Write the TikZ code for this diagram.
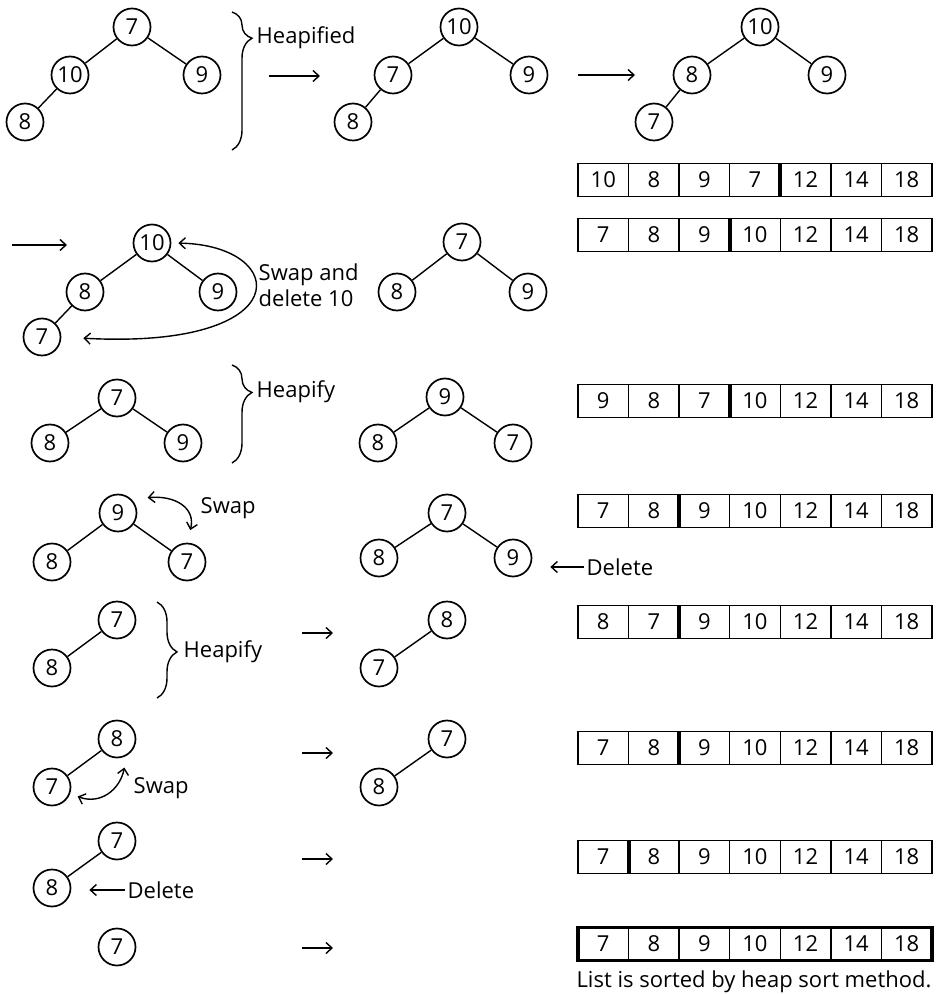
\documentclass[tikz,border=0pt]{standalone}
\usepackage{fontspec}
\setmainfont{Open Sans}
\usetikzlibrary{arrows.meta,decorations.pathreplacing}

\begin{document}
\begin{tikzpicture}[
    x=0.5pt, y=-0.5pt,
    >={Straight Barb[length=3pt,width=5.5pt]},
    line width=0.7pt,
    every node/.style={font=\fontsize{11}{13}\selectfont},
    key/.style={
        circle,
        draw,
        line width=0.85pt,
        minimum size=18.5pt,
        inner sep=0pt
    },
    cell/.style={
        rectangle,
        draw,
        line width=0.75pt,
        minimum width=25.29pt,
        minimum height=16.5pt,
        inner sep=0pt,
        outer sep=0pt
    },
    lbl/.style={anchor=west, inner sep=1pt, align=left},
    brc/.style={decorate, decoration={brace, amplitude=10pt, aspect=#1}},
    sepline/.style={line width=2pt},
    flow/.style={->},
    swp/.style={<->}
]
\useasboundingbox (0,0) rectangle (936,994);

% row 1
\node[key] (t1a) at (132,27) {7};
\node[key] (t1b) at (70,75) {10};
\node[key] (t1c) at (202,75) {9};
\node[key] (t1d) at (25,122) {8};
\draw (t1a) -- (t1b);
\draw (t1a) -- (t1c);
\draw (t1b) -- (t1d);

\draw[brc=0.19] (232,12) -- (232,150);
\node[lbl] (hp1) at (254,38) {Heapified};
\coordinate (f1s) at (269,76);
\coordinate (f1e) at (320,76);
\draw[flow] (f1s) -- (f1e);

\node[key] (t2a) at (459,27) {10};
\node[key] (t2b) at (393,75) {7};
\node[key] (t2c) at (529,75) {9};
\node[key] (t2d) at (353,122) {8};
\draw (t2a) -- (t2b);
\draw (t2a) -- (t2c);
\draw (t2b) -- (t2d);

\coordinate (f2s) at (578,75);
\coordinate (f2e) at (635,75);
\draw[flow] (f2s) -- (f2e);

\node[key] (t3a) at (760,27) {10};
\node[key] (t3b) at (692,75) {8};
\node[key] (t3c) at (827,75) {9};
\node[key] (t3d) at (654,122) {7};
\draw (t3a) -- (t3b);
\draw (t3a) -- (t3c);
\draw (t3b) -- (t3d);

% row 2
\coordinate (f3s) at (12,245);
\coordinate (f3e) at (67,245);
\draw[flow] (f3s) -- (f3e);

\node[key] (t4a) at (152,243) {10};
\node[key] (t4b) at (85,292) {8};
\node[key] (t4c) at (218,292) {9};
\node[key] (t4d) at (42,337) {7};
\draw (t4a) -- (t4b);
\draw (t4a) -- (t4c);
\draw (t4b) -- (t4d);
\draw[swp, shorten <=3.5pt, shorten >=11pt] (t4a.east) .. controls (290,245) and (300,350) .. (t4d.east);
\node[lbl] (sw1) at (256,285) {Swap and\\delete 10};

\node[key] (t5a) at (462,242) {7};
\node[key] (t5b) at (397,292) {8};
\node[key] (t5c) at (528,292) {9};
\draw (t5a) -- (t5b);
\draw (t5a) -- (t5c);

% row 3
\node[key] (t6a) at (117,398) {7};
\node[key] (t6b) at (50,443) {8};
\node[key] (t6c) at (183,443) {9};
\draw (t6a) -- (t6b);
\draw (t6a) -- (t6c);

\draw[brc=0.28] (232,365) -- (232,463);
\node[lbl] (hp2) at (254,392) {Heapify};

\node[key] (t7a) at (445,397) {9};
\node[key] (t7b) at (378,443) {8};
\node[key] (t7c) at (513,443) {7};
\draw (t7a) -- (t7b);
\draw (t7a) -- (t7c);

% row 4
\node[key] (t8a) at (118,513) {9};
\node[key] (t8b) at (52,562) {8};
\node[key] (t8c) at (187,562) {7};
\draw (t8a) -- (t8b);
\draw (t8a) -- (t8c);
\draw[swp, shorten <=8pt, shorten >=6.5pt] (t8a.north east) .. controls (175,495) and (196,508) .. (t8c.north);
\node[lbl] (sw2) at (198,508) {Swap};

\node[key] (t9a) at (447,513) {7};
\node[key] (t9b) at (379,558) {8};
\node[key] (t9c) at (513,558) {9};
\draw (t9a) -- (t9b);
\draw (t9a) -- (t9c);
\node[lbl] (del1) at (584,567) {Delete};
\draw[flow, shorten >=9pt] (del1.west) -- (del1.west -| t9c.east);

% row 5
\node[key] (t10a) at (117,620) {7};
\node[key] (t10b) at (52,668) {8};
\draw (t10a) -- (t10b);
\draw[brc=0.52] (157,602) -- (157,698);
\node[lbl] (hp3) at (181,652) {Heapify};
\coordinate (f4s) at (302,633);
\coordinate (f4e) at (333,633);
\draw[flow] (f4s) -- (f4e);

\node[key] (t11a) at (447,620) {8};
\node[key] (t11b) at (379,668) {7};
\draw (t11a) -- (t11b);

% row 6
\node[key] (t12a) at (117,739) {8};
\node[key] (t12b) at (52,787) {7};
\draw (t12a) -- (t12b);
\draw[swp, shorten <=4pt, shorten >=6pt] (t12b.-20) .. controls (100,805) and (120,790) .. (t12a.-60);
\node[lbl] (sw3) at (131,788) {Swap};
\coordinate (f5s) at (302,753);
\coordinate (f5e) at (333,753);
\draw[flow] (f5s) -- (f5e);

\node[key] (t13a) at (447,739) {7};
\node[key] (t13b) at (379,787) {8};
\draw (t13a) -- (t13b);

% row 7
\node[key] (t14a) at (117,841) {7};
\node[key] (t14b) at (52,888) {8};
\draw (t14a) -- (t14b);
\node[lbl] (del2) at (125,890) {Delete};
\draw[flow, shorten >=9pt] (del2.west) -- (del2.west -| t14b.east);
\coordinate (f6s) at (302,859);
\coordinate (f6e) at (333,859);
\draw[flow] (f6s) -- (f6e);

% row 8
\node[key] (t15a) at (117,947) {7};
\coordinate (f7s) at (302,948);
\coordinate (f7e) at (333,948);
\draw[flow] (f7s) -- (f7e);

% lists
\foreach \v [count=\i] in {10,8,9,7,12,14,18}
    \node[cell] (l1-\i) at ({552.7+50.57*\i},180) {\v};
\draw[sepline] (l1-4.north east) -- (l1-4.south east);

\foreach \v [count=\i] in {7,8,9,10,12,14,18}
    \node[cell] (l2-\i) at ({552.7+50.57*\i},235) {\v};
\draw[sepline] (l2-3.north east) -- (l2-3.south east);

\foreach \v [count=\i] in {9,8,7,10,12,14,18}
    \node[cell] (l3-\i) at ({552.7+50.57*\i},401) {\v};
\draw[sepline] (l3-3.north east) -- (l3-3.south east);

\foreach \v [count=\i] in {7,8,9,10,12,14,18}
    \node[cell] (l4-\i) at ({552.7+50.57*\i},511) {\v};
\draw[sepline] (l4-2.north east) -- (l4-2.south east);

\foreach \v [count=\i] in {8,7,9,10,12,14,18}
    \node[cell] (l5-\i) at ({552.7+50.57*\i},622) {\v};
\draw[sepline] (l5-2.north east) -- (l5-2.south east);

\foreach \v [count=\i] in {7,8,9,10,12,14,18}
    \node[cell] (l6-\i) at ({552.7+50.57*\i},748) {\v};
\draw[sepline] (l6-2.north east) -- (l6-2.south east);

\foreach \v [count=\i] in {7,8,9,10,12,14,18}
    \node[cell] (l7-\i) at ({552.7+50.57*\i},857) {\v};
\draw[sepline] (l7-1.north east) -- (l7-1.south east);

\foreach \v [count=\i] in {7,8,9,10,12,14,18}
    \node[cell] (l8-\i) at ({552.7+50.57*\i},944) {\v};
\draw[line width=1.75pt] (l8-1.north west) rectangle (l8-7.south east);
\node[anchor=base] (cap) at (754,987) {List is sorted by heap sort method.};

\end{tikzpicture}
\end{document}
